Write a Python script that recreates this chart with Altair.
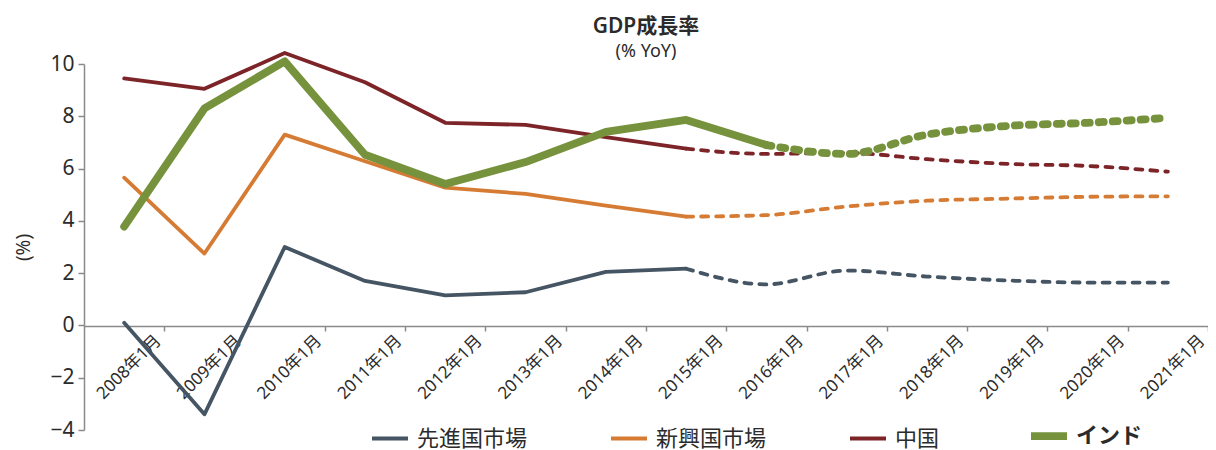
import altair as alt
import pandas as pd

# ---- data ----
tick_labels = ["2008年1月", "2009年1月", "2010年1月", "2011年1月", "2012年1月",
               "2013年1月", "2014年1月", "2015年1月", "2016年1月", "2017年1月",
               "2018年1月", "2019年1月", "2020年1月", "2021年1月"]
series_names = ["先進国市場", "新興国市場", "中国", "インド"]
series_colors = ["#455563", "#D57B33", "#7D2428", "#76923C"]

advanced = [0.1, -3.4, 3.0, 1.7, 1.15, 1.27, 2.05, 2.17, 1.57, 2.1, 1.87, 1.72, 1.64, 1.64]
emerging = [5.65, 2.75, 7.3, 6.28, 5.27, 5.03, 4.58, 4.16, 4.22, 4.55, 4.77, 4.85, 4.92, 4.94]
china = [9.45, 9.05, 10.42, 9.3, 7.75, 7.67, 7.2, 6.76, 6.56, 6.6, 6.36, 6.18, 6.1, 5.88]
india = [3.78, 8.3, 10.1, 6.53, 5.41, 6.25, 7.4, 7.86, 6.9, 6.56, 7.3, 7.63, 7.75, 7.94]
last_actual = [7, 7, 7, 8]  # index of last actual (solid) point per series

rows = []
for name, vals, end in zip(series_names, [advanced, emerging, china, india], last_actual):
    for i, v in enumerate(vals):
        if i <= end:
            rows.append({"series": name, "idx": i, "value": v, "part": "actual"})
        if i >= end:
            rows.append({"series": name, "idx": i, "value": v, "part": "forecast"})
df = pd.DataFrame(rows)

FONT = "'Noto Sans', 'Noto Sans CJK JP', sans-serif"
TXT = "#2b2b2b"
AXC = "#8a8a8a"
THIN = 3.8
THICK = 7.8

label_expr = "[" + ",".join(f"'{t}'" for t in tick_labels) + "][round(datum.value - 0.5)]"

x = alt.X("idx:Q",
          scale=alt.Scale(domain=[-0.5, 13.5], nice=False, zero=False),
          axis=alt.Axis(values=[i + 0.5 for i in range(14)], labelExpr=label_expr,
                        labelAngle=-45, labelAlign="right", labelBaseline="top",
                        labelFontSize=17, labelColor=TXT, labelFont=FONT, labelPadding=1,
                        labelOffset=-12,
                        tickSize=5, tickColor=AXC, tickWidth=1.5, domainColor=AXC,
                        domainWidth=1.5, grid=False, title=None, offset=-104,
                        labelOverlap=False))
y = alt.Y("value:Q",
          scale=alt.Scale(domain=[-4, 10], nice=False, zero=False),
          axis=alt.Axis(values=list(range(-4, 11, 2)), labelFontSize=21, labelColor=TXT,
                        labelFont=FONT, labelPadding=4, tickSize=6, tickColor=AXC,
                        tickWidth=1.5, domainColor=AXC, domainWidth=1.5, grid=False,
                        title="(%)", titleFont=FONT, titleFontSize=19,
                        titleFontWeight="normal", titleColor=TXT, titlePadding=16))

legend = alt.Legend(title=None, orient="none", direction="horizontal",
                    legendX=295, legendY=361, symbolType="stroke", symbolSize=1296,
                    labelFont=FONT, labelFontSize=22, labelColor=TXT, labelOffset=16,
                    columnPadding=75, padding=0,
                    symbolStrokeWidth={"expr": f"datum.value == 'インド' ? {THICK} : {THIN}"},
                    labelFontWeight={"expr": "datum.value == 'インド' ? 'bold' : 'normal'"})

color_scale = alt.Scale(domain=series_names, range=series_colors)

base = alt.Chart(df)

solid_thin = base.transform_filter(
    (alt.datum.part == "actual") & (alt.datum.series != "インド")).mark_line(
    strokeCap="round", strokeJoin="round", strokeWidth=THIN).encode(
    x=x, y=y,
    color=alt.Color("series:N", scale=color_scale, legend=legend, sort=series_names),
)

solid_green = base.transform_filter(
    (alt.datum.part == "actual") & (alt.datum.series == "インド")).mark_line(
    strokeCap="round", strokeJoin="round", strokeWidth=THICK).encode(
    x=x, y=y, color=alt.Color("series:N", scale=color_scale, legend=None),
)

dash_thin = base.transform_filter(
    (alt.datum.part == "forecast") & (alt.datum.series != "インド")).mark_line(
    interpolate="monotone", strokeDash=[7, 8], strokeCap="round", strokeWidth=THIN).encode(
    x=x, y=y, color=alt.Color("series:N", scale=color_scale, legend=None),
)

dash_green = base.transform_filter(
    (alt.datum.part == "forecast") & (alt.datum.series == "インド")).mark_line(
    interpolate="monotone", strokeDash=[5, 9], strokeCap="round", strokeWidth=THICK).encode(
    x=x, y=y, color=alt.Color("series:N", scale=color_scale, legend=None),
)

chart = alt.layer(solid_thin, solid_green, dash_thin, dash_green).properties(
    width=1124, height=366,
    autosize=alt.AutoSizeParams(type="none"),
    padding={"left": 76, "top": 56, "right": 0, "bottom": 20},
    title=alt.TitleParams("GDP成長率", subtitle="(% YoY)", anchor="middle", frame="group",
                          font=FONT, fontSize=21, fontWeight=600, color=TXT,
                          subtitleFont=FONT, subtitleFontSize=18, subtitleColor=TXT,
                          subtitlePadding=6, offset=-10),
).configure_view(stroke=None)

chart.save("out.html", embed_options={"renderer": "svg", "actions": False})
